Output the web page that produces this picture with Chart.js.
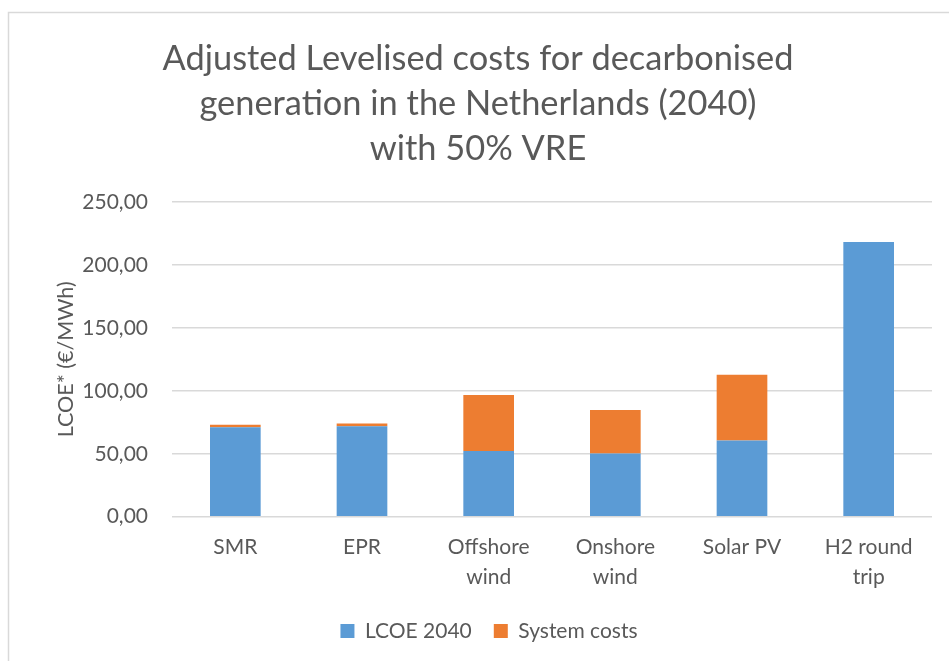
<!DOCTYPE html>
<html>
<head>
<meta charset="utf-8">
<script src="https://cdn.jsdelivr.net/npm/chart.js@4.4.0/dist/chart.umd.min.js"></script>
<style>
  html, body { margin: 0; padding: 0; background: #ffffff; }
  #wrap { position: relative; width: 949px; height: 661px; }
</style>
</head>
<body>
<div id="wrap"><canvas id="c" width="949" height="661"></canvas></div>
<script>
const categories = [["SMR"], ["EPR"], ["Offshore", "wind"], ["Onshore", "wind"], ["Solar PV"], ["H2 round", "trip"]];
const lcoe2040 = [71.0, 71.8, 52.1, 50.3, 60.6, 218.3];
const systemCosts = [2.0, 2.3, 44.5, 34.4, 52.1, 0];
const seriesNames = ["LCOE 2040", "System costs"];
const titleLines = ["Adjusted Levelised costs for decarbonised", "generation in the Netherlands (2040)", "with 50% VRE"];
const yAxisTitle = "LCOE* (€/MWh)";
const yMin = 0, yMax = 250, yStep = 50;

const FONT = "Lato, 'Open Sans', sans-serif";
const TXT = "#595959";

const borderPlugin = {
  id: 'outerBorder',
  afterLayout(chart) {
    if (chart.titleBlock) {
      chart.titleBlock.left -= 11;
      chart.titleBlock.right -= 11;
    }
  },
  beforeDraw(chart) {
    const ctx = chart.ctx;
    ctx.save();
    ctx.fillStyle = '#ffffff';
    ctx.fillRect(0, 0, chart.width, chart.height);
    ctx.strokeStyle = '#d9d9d9';
    ctx.lineWidth = 1.5;
    ctx.strokeRect(8.5, 12.5, 1100, 1000);
    ctx.restore();
  }
};

new Chart(document.getElementById('c'), {
  type: 'bar',
  data: {
    labels: categories,
    datasets: [
      { label: seriesNames[0], data: lcoe2040, backgroundColor: '#5b9bd5', barPercentage: 0.4, categoryPercentage: 1.0 },
      { label: seriesNames[1], data: systemCosts, backgroundColor: '#ed7d31', barPercentage: 0.4, categoryPercentage: 1.0 }
    ]
  },
  options: {
    responsive: false,
    animation: false,
    devicePixelRatio: 1,
    layout: { padding: { left: 46, right: 17, top: 0, bottom: 9.5 } },
    plugins: {
      tooltip: { enabled: false },
      title: {
        display: true,
        text: titleLines,
        color: TXT,
        font: { family: FONT, size: 34.4, weight: 'normal', lineHeight: 1.308 },
        padding: { top: 36.5, bottom: 30.5 }
      },
      legend: {
        position: 'bottom',
        labels: {
          color: TXT,
          font: { family: FONT, size: 21 },
          boxWidth: 14,
          boxHeight: 14,
          padding: 22
        }
      }
    },
    scales: {
      x: {
        stacked: true,
        grid: { display: false, drawTicks: false },
        border: { display: false },
        ticks: { color: TXT, font: { family: FONT, size: 21, lineHeight: 1.4 }, padding: 16, maxRotation: 0, autoSkip: false },
        afterFit(scale) { scale.height = 81.8; }
      },
      y: {
        stacked: true,
        min: yMin, max: yMax,
        grid: { color: '#d9d9d9', lineWidth: 1.5, drawTicks: false },
        border: { display: false },
        ticks: {
          stepSize: yStep,
          color: TXT,
          font: { family: FONT, size: 21 },
          padding: 24,
          callback: (v) => Number(v).toFixed(2).replace('.', ',')
        },
        title: {
          display: true,
          text: yAxisTitle,
          color: TXT,
          font: { family: FONT, size: 21.5, lineHeight: 1.2 },
          padding: { top: 7, bottom: 0 }
        },
        afterFit(scale) { scale.width = 126; }
      }
    }
  },
  plugins: [borderPlugin]
});
</script>
</body>
</html>
